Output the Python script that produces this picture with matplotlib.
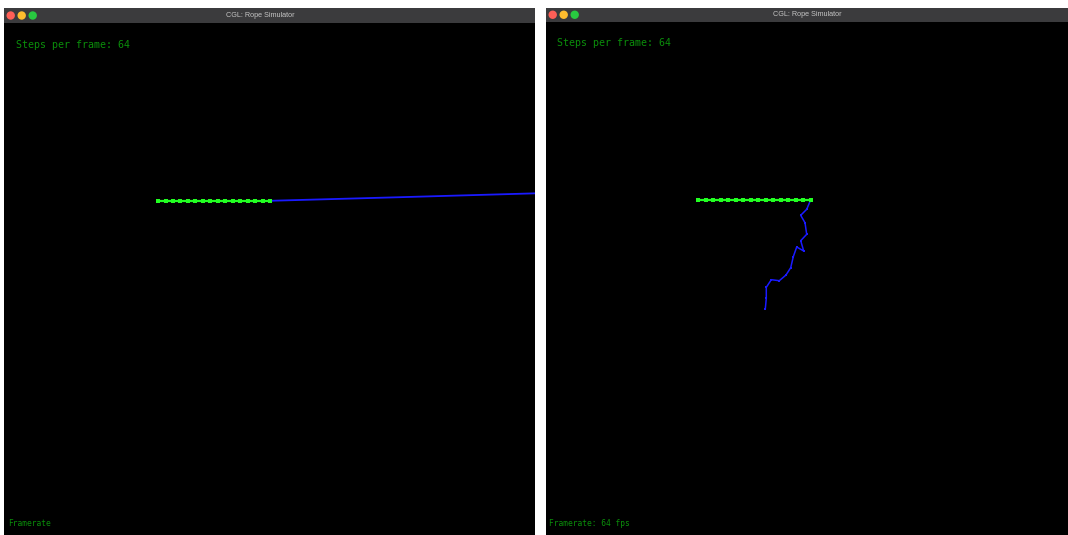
import matplotlib
matplotlib.use("Agg")
import matplotlib.pyplot as plt
from matplotlib.patches import Rectangle, Circle

# two screenshots of the rope simulator, pixel coordinates
window_titles = ["CGL: Rope Simulator", "CGL: Rope Simulator"]
steps_labels = ["Steps per frame: 64", "Steps per frame: 64"]
fps_labels = ["Framerate", "Framerate: 64 fps"]

# left screenshot: green rope (nodes) and blue rope
left_green_x = [158, 165.5, 173, 180.4, 187.9, 195.3, 202.8, 210.3,
                217.7, 225.2, 232.7, 240.1, 247.6, 255, 262.5, 270]
left_green_y = [200.8] * 16
left_blue_x = [270, 400, 540]
left_blue_y = [200.8, 197.2, 193.2]

# right screenshot
right_green_x = [698, 705.5, 713, 720.5, 728, 735.6, 743, 750.6,
                 758, 765.6, 773, 780.6, 788, 795.6, 803, 810.7]
right_green_y = [199.8] * 16
right_blue_x = [810.7, 806.7, 800.7, 805, 806.7, 800.7, 803.7, 796.7,
                793.3, 790.7, 786, 779.3, 771.3, 766.3, 766.3, 765.3]
right_blue_y = [199.8, 209.3, 215.3, 222.7, 234.3, 240.7, 251, 247,
                256.7, 267.7, 275, 280.7, 279.7, 287.3, 298.3, 309]

W, H = 1068, 535
fig = plt.figure(figsize=(W / 100, H / 100), dpi=100)
fig.patch.set_facecolor("white")
ax = fig.add_axes([0, 0, 1, 1])
ax.set_xlim(0, W)
ax.set_ylim(H, 0)
ax.axis("off")

mono = ["DejaVu Sans Mono"]

# window frames: (x0, x1, title_top, title_bottom, title_center)
windows = [(4, 535, 8, 23, 260), (546, 1068, 7.5, 22, 807)]
for i, (x0, x1, t0, t1, tc) in enumerate(windows):
    ax.add_patch(Rectangle((x0, t0), x1 - x0, t1 - t0, facecolor="#3b3b3d",
                           edgecolor="none"))
    body = Rectangle((x0, t1), x1 - x0, H - t1, facecolor="black",
                     edgecolor="none")
    ax.add_patch(body)
    ty = (t0 + t1) / 2
    for dx, c in zip([6.7, 17.7, 28.7], ["#fe5f57", "#febc2e", "#28c840"]):
        ax.add_patch(Circle((x0 + dx, ty), 4.2, facecolor=c, edgecolor="none"))
    ax.text(tc, ty, window_titles[i], color="#c4c4c4", fontsize=5.2,
            family=["Liberation Sans", "DejaVu Sans"], ha="center", va="center")
    ax.text(x0 + 12 if i == 0 else x0 + 11, 45 if i == 0 else 43,
            steps_labels[i], color="#0b8f0b", fontsize=7.2,
            family=mono, ha="left", va="center")
    ax.text(x0 + 4 if i == 0 else x0 + 3, 523, fps_labels[i], color="#0b8f0b",
            fontsize=5.7, family=mono, ha="left", va="center")
    if i == 0:
        left_body = body

# ropes
blue, = ax.plot(left_blue_x, left_blue_y, color="#1a1aff", lw=1.3,
                solid_capstyle="butt")
blue.set_clip_path(left_body)
ax.plot(left_green_x, left_green_y, color="#22ff22", lw=1.6, marker="s",
        ms=2.4, mew=0, mfc="#22ff22")
ax.plot(right_blue_x, right_blue_y, color="#1a1aff", lw=1.1, marker="s",
        ms=2.0, mew=0, mfc="#1a1aff")
ax.plot(right_green_x, right_green_y, color="#22ff22", lw=1.6, marker="s",
        ms=2.4, mew=0, mfc="#22ff22")

fig.savefig("out.png", dpi=100, facecolor=fig.get_facecolor())
